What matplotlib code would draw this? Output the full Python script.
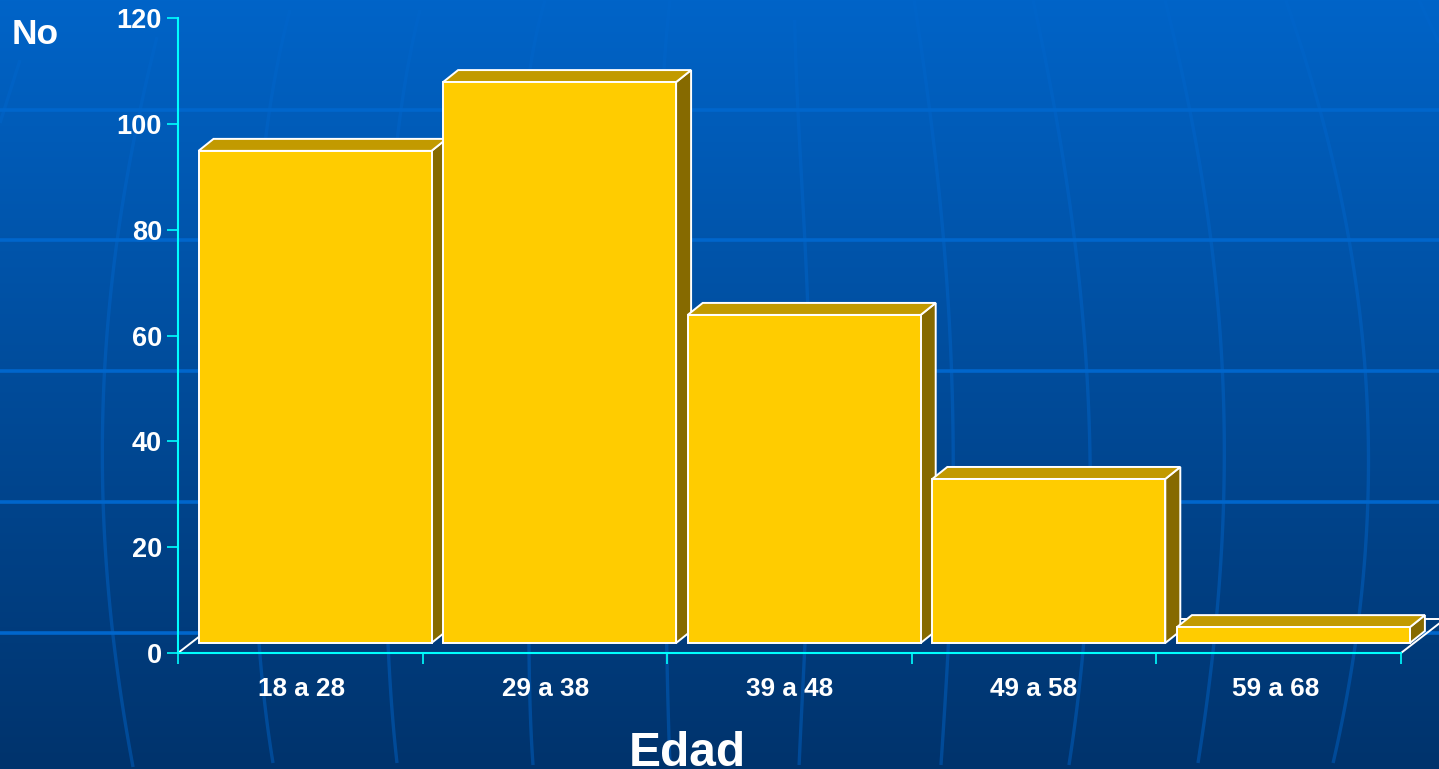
import numpy as np
import matplotlib
matplotlib.use('Agg')
import matplotlib.pyplot as plt
from matplotlib.patches import Polygon

plt.rcParams['font.family'] = ['Liberation Sans', 'DejaVu Sans']
plt.rcParams['font.weight'] = 'bold'

# data
categories = ['18 a 28', '29 a 38', '39 a 48', '49 a 58', '59 a 68']
values = [93, 106, 62, 31, 3]
y_ticks = [0, 20, 40, 60, 80, 100, 120]

W, H = 1439, 769

# slide background: horizontal lines and meridians, in pixels
bands = [110, 240, 371, 502, 633]
meridians = [
    [(20, 60), (0, 123)],
    [(157, 37), (117, 240), (105, 372), (102, 460), (103, 503), (113, 634), (133, 767)],
    [(290, 10), (270, 107), (252, 372), (259, 643), (273, 763)],
    [(420, 10), (400, 117), (385, 372), (388, 643), (397, 763)],
    [(545, 0), (530, 69), (525, 372), (529, 650), (533, 765)],
    [(670, 0), (664, 69), (662, 371), (667, 660), (670, 765)],
    [(795, 20), (797, 110), (806, 240), (808, 320), (810, 450), (805, 650), (799, 765)],
    [(914, 0), (930, 110), (943, 240), (948, 300), (952, 371), (953, 440), (948, 650), (941, 765)],
    [(1033, 0), (1055, 110), (1074, 240), (1082, 300), (1086, 371), (1090, 440), (1083, 650), (1069, 765)],
    [(1165, 0), (1190, 110), (1210, 240), (1218, 300), (1223, 371), (1224, 440), (1223, 502), (1218, 610),
     (1213, 647), (1198, 763)],
    [(1286, 0), (1319, 110), (1350, 240), (1359, 300), (1364, 371), (1368, 440), (1368, 502), (1360, 610),
     (1355, 647), (1333, 763)],
    [(1419, 0), (1439, 43)],
]

fig = plt.figure(figsize=(W / 100, H / 100), dpi=100)

bg = fig.add_axes([0, 0, 1, 1], zorder=0)
top_col = np.array([0x00, 0x64, 0xC8]) / 255
bot_col = np.array([0x00, 0x33, 0x6C]) / 255
t = np.linspace(0, 1, H)[:, None, None]
bg.imshow(top_col * (1 - t) + bot_col * t, extent=(0, W, H, 0), aspect='auto')
for m in meridians:
    xs, ys = zip(*m)
    if len(m) > 3:
        yy = np.linspace(ys[0], ys[-1], 100)
        xx = np.polyval(np.polyfit(ys, xs, 4), yy)
    else:
        xx, yy = xs, ys
    bg.plot(xx, yy, color='#0066CC', alpha=0.45, lw=2.4, solid_capstyle='butt')
for b in bands:
    bg.plot([0, W], [b, b], color='#0066CC', lw=2.6)
bg.set_xlim(0, W)
bg.set_ylim(H, 0)
bg.axis('off')

# chart axes, y axis at x=178, baseline at y=653
ax = fig.add_axes([178 / W, 1 - 653 / H, (1401 - 178) / W, (653 - 18) / H], zorder=1)
ax.patch.set_alpha(0)
ax.set_xlim(0, len(categories))
ax.set_ylim(0, 120)

px_x = (1401 - 178) / len(categories)
px_y = (653 - 18) / 120
off_x = 20.5 / px_x     # front face start inside the category
off_y = 10 / px_y       # front face base above the axis
bar_w = 233 / px_x
depth_x = 15 / px_x
depth_y = 12 / px_y
floor_x = 44 / px_x
floor_y = 34 / px_y

edge = dict(edgecolor='white', linewidth=1.4, joinstyle='miter', clip_on=False)

n = len(categories)
ax.add_patch(Polygon([(0, 0), (n, 0), (n + floor_x, floor_y), (floor_x, floor_y)],
                     fill=False, zorder=2, **edge))

for i, v in enumerate(values):
    x0 = i + off_x
    x1 = x0 + bar_w
    y0 = off_y
    y1 = off_y + v
    z = 3 + i
    ax.add_patch(Polygon([(x1, y0), (x1 + depth_x, y0 + depth_y), (x1 + depth_x, y1 + depth_y), (x1, y1)],
                         facecolor='#866A00', zorder=z, **edge))
    ax.add_patch(Polygon([(x0, y1), (x1, y1), (x1 + depth_x, y1 + depth_y), (x0 + depth_x, y1 + depth_y)],
                         facecolor='#C29A00', zorder=z, **edge))
    ax.add_patch(Polygon([(x0, y0), (x1, y0), (x1, y1), (x0, y1)],
                         facecolor='#FFCC00', zorder=z, **edge))

for s in ['top', 'right']:
    ax.spines[s].set_visible(False)
for s in ['left', 'bottom']:
    ax.spines[s].set_color('#00FFFF')
    ax.spines[s].set_linewidth(1.5)
    ax.spines[s].set_zorder(2.5)

ax.set_yticks(y_ticks)
ax.tick_params(axis='y', length=8, width=1.2, color='#00FFFF', labelcolor='white', labelsize=19.5, pad=3.5)
ax.set_xticks(range(n + 1))
ax.set_xticklabels([])
# the labels sit a little off the category centres in the original
label_px = [302, 546, 790, 1034, 1276]
ax.set_xticks([(p - 178) / px_x for p in label_px], minor=True)
ax.set_xticklabels(categories, minor=True)
ax.tick_params(axis='x', which='major', length=8, width=1.2, color='#00FFFF')
ax.tick_params(axis='x', which='minor', length=0, labelcolor='white', labelsize=18.8, pad=17)

fig.text(12 / W, 1 - 35 / H, 'No', color='white', fontsize=25.5, ha='left', va='center')
fig.text(687 / W, 1 - 766 / H, 'Edad', color='white', fontsize=34.5, ha='center', va='baseline')

fig.savefig('out.png', dpi=100)
